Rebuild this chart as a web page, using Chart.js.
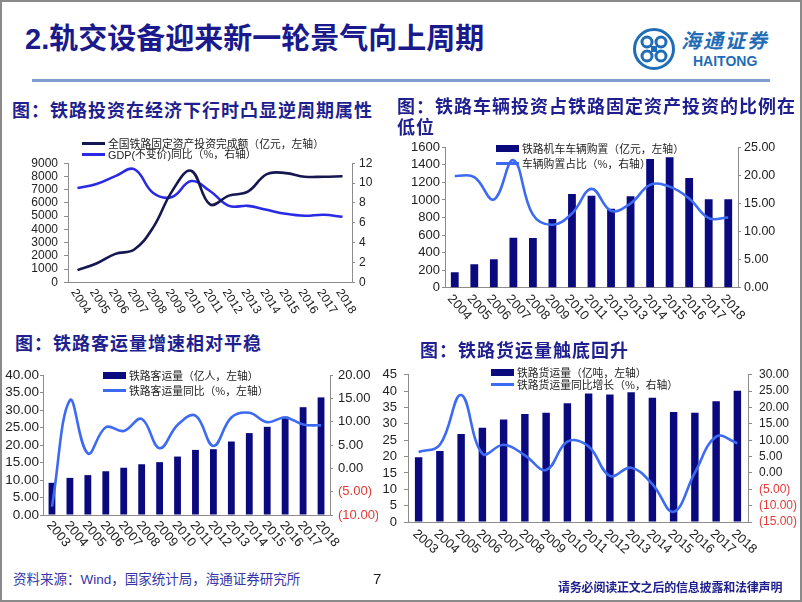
<!DOCTYPE html>
<html>
<head>
<meta charset="utf-8">
<script src="https://cdn.jsdelivr.net/npm/chart.js@4.4.1/dist/chart.umd.min.js"></script>
<style>
  body { margin: 0; background: #fff; }
  #page { position: relative; width: 802px; height: 602px; overflow: hidden; background: #fff;
          font-family: "Noto Sans CJK SC", sans-serif; }
  #frame { position: absolute; left: 0; top: 0; right: 0; bottom: 0; border: 2px solid #8a8a8a; pointer-events: none; z-index: 9; }
  .abs { position: absolute; white-space: nowrap; }
  canvas { position: absolute; }
  .ctitle { font-size: 18px; font-weight: 700; color: #1f1f8f; letter-spacing: 1px; line-height: 18px; z-index: 2; }
  .leg { font-size: 10.8px; line-height: 11px; color: #222; z-index: 3; }
  .leg i { display: inline-block; vertical-align: middle; margin-right: 3px; }
  .leg .ln { width: 23px; height: 3px; }
  .leg .bx { width: 23px; height: 7px; background: #0a0a7e; }
  .leg span { vertical-align: middle; }
</style>
</head>
<body>
<div id="page">
  <div class="abs" style="left:25px;top:25px;font-size:29px;line-height:29px;font-weight:700;color:#1a1a8c;font-family:'Liberation Sans','Noto Sans CJK SC';">2.轨交设备迎来新一轮景气向上周期</div>

  <svg class="abs" style="left:632px;top:27px" width="44" height="44" viewBox="0 0 44 44">
    <circle cx="22" cy="22" r="19.5" fill="none" stroke="#1f6db6" stroke-width="3"/>
    <g fill="none" stroke="#1f6db6" stroke-width="3">
      <circle cx="15" cy="15" r="5"/>
      <circle cx="29" cy="15" r="5"/>
      <circle cx="15" cy="29" r="5"/>
      <circle cx="29" cy="29" r="5"/>
    </g>
    <rect x="19" y="19" width="6" height="6" fill="#1f6db6"/>
  </svg>
  <div class="abs" style="left:681px;top:29px;font-size:20px;line-height:22px;font-weight:700;font-style:italic;color:#1f6db6;letter-spacing:2px;">海通证券</div>
  <div class="abs" style="left:693px;top:54px;font-size:14px;line-height:14px;font-weight:700;color:#1f6db6;font-family:'Liberation Sans';">HAITONG</div>
  <div class="abs" style="left:32px;top:79px;width:738px;height:3px;background:#7f9dd1;"></div>

  <div class="abs ctitle" style="left:12px;top:100px;">图：铁路投资在经济下行时凸显逆周期属性</div>
  <div class="abs ctitle" style="left:397px;top:95px;line-height:20.5px;">图：铁路车辆投资占铁路固定资产投资的比例在<br>低位</div>
  <div class="abs ctitle" style="left:15px;top:333px;">图：铁路客运量增速相对平稳</div>
  <div class="abs ctitle" style="left:420px;top:340px;">图：铁路货运量触底回升</div>

  <div class="abs leg" style="left:82px;top:136px;"><i class="ln" style="background:#161650"></i><span>全国铁路固定资产投资完成额（亿元，左轴）</span></div>
  <div class="abs leg" style="left:82px;top:147px;"><i class="ln" style="background:#2a2ae6"></i><span><span style="font-family:'Liberation Sans'">GDP(</span>不变价<span style="font-family:'Liberation Sans'">)</span>同比（%，右轴）</span></div>

  <div class="abs leg" style="left:496px;top:141px;"><i class="bx"></i><span>铁路机车车辆购置（亿元，左轴）</span></div>
  <div class="abs leg" style="left:496px;top:156px;"><i class="ln" style="background:#3d6af2"></i><span>车辆购置占比（%，右轴）</span></div>

  <div class="abs leg" style="left:103px;top:368px;"><i class="bx"></i><span>铁路客运量（亿人，左轴）</span></div>
  <div class="abs leg" style="left:103px;top:383px;"><i class="ln" style="background:#3d6af2"></i><span>铁路客运量同比（%，左轴）</span></div>

  <div class="abs leg" style="left:491px;top:365px;"><i class="bx"></i><span>铁路货运量（亿吨，左轴）</span></div>
  <div class="abs leg" style="left:491px;top:377px;"><i class="ln" style="background:#3d6af2"></i><span>铁路货运量同比增长（%，右轴）</span></div>

  <canvas id="c1" width="400" height="175" style="left:0;top:150px;"></canvas>
  <canvas id="c2" width="407" height="190" style="left:395px;top:135px;"></canvas>
  <canvas id="c3" width="378" height="190" style="left:0;top:360px;"></canvas>
  <canvas id="c4" width="426" height="200" style="left:376px;top:360px;"></canvas>

  <div class="abs" style="left:13px;top:570px;font-size:13.5px;line-height:16px;color:#3636a6;">资料来源：<span style="font-family:'Liberation Sans'">Wind</span>，国家统计局，海通证券研究所</div>
  <div class="abs" style="left:373px;top:571px;font-size:15px;line-height:16px;color:#222;font-family:'Liberation Sans';">7</div>
  <div class="abs" style="left:558px;top:580px;font-size:12px;line-height:14px;font-weight:700;color:#1e1e8c;letter-spacing:-0.2px;">请务必阅读正文之后的信息披露和法律声明</div>
  <div id="frame"></div>
</div>

<script>
// chart 1: railway investment vs GDP
const years1 = ['2004','2005','2006','2007','2008','2009','2010','2011','2012','2013','2014','2015','2016','2017','2018'];
const railInvest = [920, 1420, 2150, 2480, 4150, 6890, 8430, 5890, 6550, 6850, 8180, 8250, 7980, 7980, 8010];
const gdpGrowth = [9.5, 9.9, 10.7, 11.4, 9.0, 8.6, 10.2, 9.2, 7.7, 7.7, 7.3, 6.9, 6.7, 6.8, 6.6];

// chart 2: rolling stock purchase and its share
const years2 = years1;
const vehicleBuy = [175, 266, 323, 570, 566, 783, 1068, 1049, 901, 1041, 1467, 1486, 1250, 1007, 1007];
const vehicleShare = [19.9, 19.7, 15.7, 22.7, 13.0, 11.2, 13.2, 17.6, 13.7, 15.0, 18.3, 18.0, 15.9, 12.4, 12.5];

// chart 3: passenger volume
const years3 = ['2003','2004','2005','2006','2007','2008','2009','2010','2011','2012','2013','2014','2015','2016','2017','2018'];
const passenger = [9.2, 10.6, 11.4, 12.5, 13.5, 14.5, 15.1, 16.7, 18.6, 18.8, 21.0, 23.4, 25.2, 28.1, 30.8, 33.6];
const passGrowth = [-8.2, 14.6, 3.2, 8.8, 8.0, 10.6, 4.3, 9.3, 11.3, 4.8, 10.9, 11.9, 9.9, 10.9, 9.4, 9.2];

// chart 4: freight volume
const years4 = years3;
const freight = [19.8, 21.7, 26.9, 28.8, 31.3, 33.0, 33.4, 36.3, 39.3, 39.0, 39.7, 38.0, 33.6, 33.4, 36.9, 40.1];
const freightGrowth = [6.4, 8.6, 23.8, 5.9, 8.6, 5.4, 0.9, 9.6, 8.1, -0.9, 1.6, -3.4, -11.9, 0.1, 11.1, 9.1];

const BAR = '#0a0a7e';
const LINE = '#3d6af2';
const AXIS = '#8c8c8c';
const RED = '#e53935';

// x labels slanted clockwise, drawn from the category scale
const slantLabels = {
  id: 'slantLabels',
  afterDraw(chart, args, opts) {
    const xs = chart.scales.x;
    const ctx = chart.ctx;
    ctx.save();
    ctx.font = opts.size + 'px "Liberation Sans"';
    ctx.fillStyle = '#222';
    ctx.textAlign = 'left';
    ctx.textBaseline = 'middle';
    chart.data.labels.forEach((lab, i) => {
      ctx.save();
      ctx.translate(xs.getPixelForTick(i) + opts.dx, xs.top + opts.dy);
      ctx.rotate(opts.angle * Math.PI / 180);
      ctx.fillText(lab, 0, 0);
      ctx.restore();
    });
    ctx.restore();
  }
};

const dec2 = v => v < 0 ? '(' + Math.abs(v).toFixed(2) + ')' : v.toFixed(2);
const plain = v => String(v);
const negRed = c => (c.tick && c.tick.value < 0) ? RED : '#222';

function yAxis(pos, min, max, step, o) {
  return {
    position: pos, min: min, max: max,
    ticks: { stepSize: step, autoSkip: false, padding: o.pad, color: negRed, callback: o.fmt,
             font: { family: 'Liberation Sans', size: o.size } },
    grid: { drawOnChartArea: false, drawTicks: true, tickLength: o.tick, color: AXIS },
    border: { color: AXIS },
    afterFit(s) { s.width = o.w; }
  };
}

function xAxis(h) {
  return {
    offset: true,
    ticks: { display: false },
    grid: { display: false },
    border: { color: AXIS },
    afterFit(s) { s.height = h; }
  };
}

const common = (pad, slant) => ({
  responsive: false,
  animation: false,
  layout: { padding: pad },
  plugins: { legend: { display: false }, tooltip: { enabled: false }, slantLabels: slant },
  elements: { point: { radius: 0 } }
});

new Chart(document.getElementById('c1'), {
  type: 'line',
  data: {
    labels: years1,
    datasets: [
      { data: railInvest, yAxisID: 'y', borderColor: '#161650', borderWidth: 2.6, tension: 0.4 },
      { data: gdpGrowth, yAxisID: 'y1', borderColor: '#2a2ae6', borderWidth: 2.6, tension: 0.4 }
    ]
  },
  options: Object.assign(common({ top: 11.7 }, { size: 12, angle: 57, dx: -4, dy: 8 }), {
    scales: {
      x: xAxis(42.7),
      y: yAxis('left', 0, 9000, 1000, { size: 12, pad: 6, tick: 4, w: 68, fmt: plain }),
      y1: yAxis('right', 0, 12, 2, { size: 12, pad: 4, tick: 3, w: 48, fmt: plain })
    }
  }),
  plugins: [slantLabels]
});

new Chart(document.getElementById('c2'), {
  data: {
    labels: years2,
    datasets: [
      { type: 'line', data: vehicleShare, yAxisID: 'y1', borderColor: LINE, borderWidth: 2.6, tension: 0.4, order: 0 },
      { type: 'bar', data: vehicleBuy, yAxisID: 'y', backgroundColor: BAR, barPercentage: 0.4, categoryPercentage: 1, order: 1 }
    ]
  },
  options: Object.assign(common({ top: 12.3 }, { size: 13, angle: 48, dx: -5, dy: 9 }), {
    scales: {
      x: xAxis(37.3),
      y: yAxis('left', 0, 1600, 200, { size: 13, pad: 2, tick: 3, w: 50, fmt: plain }),
      y1: yAxis('right', 0, 25, 5, { size: 12.5, pad: 3, tick: 3, w: 64, fmt: dec2 })
    }
  }),
  plugins: [slantLabels]
});

new Chart(document.getElementById('c3'), {
  data: {
    labels: years3,
    datasets: [
      { type: 'line', data: passGrowth, yAxisID: 'y1', borderColor: LINE, borderWidth: 2.6, tension: 0.4, order: 0 },
      { type: 'bar', data: passenger, yAxisID: 'y', backgroundColor: BAR, barPercentage: 0.38, categoryPercentage: 1, order: 1 }
    ]
  },
  options: Object.assign(common({ top: 15 }, { size: 13, angle: 50, dx: -3, dy: 8 }), {
    scales: {
      x: xAxis(35),
      y: yAxis('left', 0, 40, 5, { size: 13.5, pad: 1, tick: 3, w: 43, fmt: dec2 }),
      y1: yAxis('right', -10, 20, 5, { size: 13, pad: 5, tick: 3, w: 48, fmt: dec2 })
    }
  }),
  plugins: [slantLabels]
});

new Chart(document.getElementById('c4'), {
  data: {
    labels: years4,
    datasets: [
      { type: 'line', data: freightGrowth, yAxisID: 'y1', borderColor: LINE, borderWidth: 2.6, tension: 0.4, order: 0 },
      { type: 'bar', data: freight, yAxisID: 'y', backgroundColor: BAR, barPercentage: 0.35, categoryPercentage: 1, order: 1 }
    ]
  },
  options: Object.assign(common({ top: 12 }, { size: 13, angle: 42, dx: -4, dy: 10 }), {
    scales: {
      x: xAxis(38),
      y: yAxis('left', 0, 45, 5, { size: 13, pad: 7, tick: 4, w: 32, fmt: plain }),
      y1: yAxis('right', -15, 30, 5, { size: 12, pad: 7, tick: 4, w: 54, fmt: dec2 })
    }
  }),
  plugins: [slantLabels]
});
</script>
</body>
</html>
